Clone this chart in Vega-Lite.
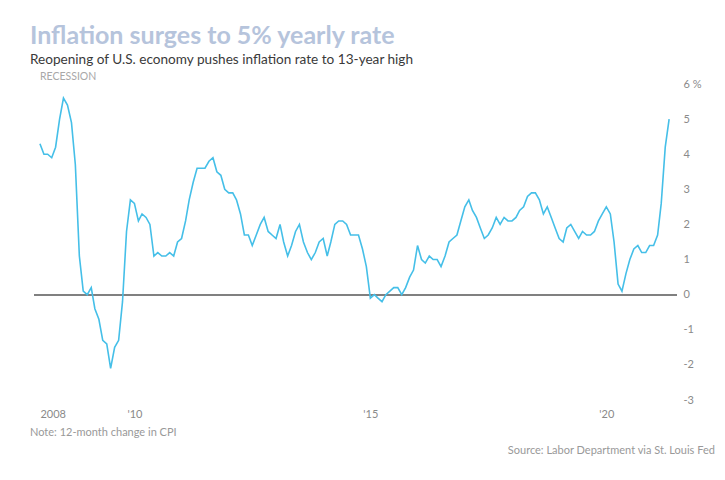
{
  "$schema": "https://vega.github.io/schema/vega-lite/v6.json",
  "width": 643,
  "height": 316,
  "autosize": {"type": "none"},
  "padding": {"left": 34, "top": 84, "right": 48, "bottom": 80},
  "background": "white",
  "config": {
    "view": {"stroke": null},
    "font": "Lato",
    "axis": {"labelOverlap": false, "labelBound": false, "labelFlush": false, "domain": false, "ticks": false, "grid": false, "title": null, "labelFont": "Lato", "labelFontSize": 11, "labelColor": "#8a8a8a"},
    "axisX": {"labelPadding": 8},
    "axisY": {"labelPadding": 6}
  },
  "title": {
    "text": "Inflation surges to 5% yearly rate",
    "subtitle": "Reopening of U.S. economy pushes inflation rate to 13-year high",
    "anchor": "start",
    "frame": "group",
    "dx": -4,
    "offset": 5,
    "font": "Lato",
    "fontSize": 25,
    "fontWeight": "bold",
    "color": "#b6c4dc",
    "subtitleFont": "Lato",
    "subtitleFontSize": 13.6,
    "subtitleColor": "#3a3a3a",
    "subtitlePadding": 4
  },
  "resolve": {"scale": {"y": "independent"}, "axis": {"y": "independent"}},
  "data": {"values": [
    {"date":"2008-01-01","cpi":4.3},{"date":"2008-02-01","cpi":4.0},{"date":"2008-03-01","cpi":4.0},{"date":"2008-04-01","cpi":3.9},{"date":"2008-05-01","cpi":4.2},{"date":"2008-06-01","cpi":5.0},{"date":"2008-07-01","cpi":5.6},{"date":"2008-08-01","cpi":5.4},{"date":"2008-09-01","cpi":4.9},{"date":"2008-10-01","cpi":3.7},{"date":"2008-11-01","cpi":1.1},{"date":"2008-12-01","cpi":0.1},
    {"date":"2009-01-01","cpi":0.0},{"date":"2009-02-01","cpi":0.2},{"date":"2009-03-01","cpi":-0.4},{"date":"2009-04-01","cpi":-0.7},{"date":"2009-05-01","cpi":-1.3},{"date":"2009-06-01","cpi":-1.4},{"date":"2009-07-01","cpi":-2.1},{"date":"2009-08-01","cpi":-1.5},{"date":"2009-09-01","cpi":-1.3},{"date":"2009-10-01","cpi":-0.2},{"date":"2009-11-01","cpi":1.8},{"date":"2009-12-01","cpi":2.7},
    {"date":"2010-01-01","cpi":2.6},{"date":"2010-02-01","cpi":2.1},{"date":"2010-03-01","cpi":2.3},{"date":"2010-04-01","cpi":2.2},{"date":"2010-05-01","cpi":2.0},{"date":"2010-06-01","cpi":1.1},{"date":"2010-07-01","cpi":1.2},{"date":"2010-08-01","cpi":1.1},{"date":"2010-09-01","cpi":1.1},{"date":"2010-10-01","cpi":1.2},{"date":"2010-11-01","cpi":1.1},{"date":"2010-12-01","cpi":1.5},
    {"date":"2011-01-01","cpi":1.6},{"date":"2011-02-01","cpi":2.1},{"date":"2011-03-01","cpi":2.7},{"date":"2011-04-01","cpi":3.2},{"date":"2011-05-01","cpi":3.6},{"date":"2011-06-01","cpi":3.6},{"date":"2011-07-01","cpi":3.6},{"date":"2011-08-01","cpi":3.8},{"date":"2011-09-01","cpi":3.9},{"date":"2011-10-01","cpi":3.5},{"date":"2011-11-01","cpi":3.4},{"date":"2011-12-01","cpi":3.0},
    {"date":"2012-01-01","cpi":2.9},{"date":"2012-02-01","cpi":2.9},{"date":"2012-03-01","cpi":2.7},{"date":"2012-04-01","cpi":2.3},{"date":"2012-05-01","cpi":1.7},{"date":"2012-06-01","cpi":1.7},{"date":"2012-07-01","cpi":1.4},{"date":"2012-08-01","cpi":1.7},{"date":"2012-09-01","cpi":2.0},{"date":"2012-10-01","cpi":2.2},{"date":"2012-11-01","cpi":1.8},{"date":"2012-12-01","cpi":1.7},
    {"date":"2013-01-01","cpi":1.6},{"date":"2013-02-01","cpi":2.0},{"date":"2013-03-01","cpi":1.5},{"date":"2013-04-01","cpi":1.1},{"date":"2013-05-01","cpi":1.4},{"date":"2013-06-01","cpi":1.8},{"date":"2013-07-01","cpi":2.0},{"date":"2013-08-01","cpi":1.5},{"date":"2013-09-01","cpi":1.2},{"date":"2013-10-01","cpi":1.0},{"date":"2013-11-01","cpi":1.2},{"date":"2013-12-01","cpi":1.5},
    {"date":"2014-01-01","cpi":1.6},{"date":"2014-02-01","cpi":1.1},{"date":"2014-03-01","cpi":1.5},{"date":"2014-04-01","cpi":2.0},{"date":"2014-05-01","cpi":2.1},{"date":"2014-06-01","cpi":2.1},{"date":"2014-07-01","cpi":2.0},{"date":"2014-08-01","cpi":1.7},{"date":"2014-09-01","cpi":1.7},{"date":"2014-10-01","cpi":1.7},{"date":"2014-11-01","cpi":1.3},{"date":"2014-12-01","cpi":0.8},
    {"date":"2015-01-01","cpi":-0.1},{"date":"2015-02-01","cpi":0.0},{"date":"2015-03-01","cpi":-0.1},{"date":"2015-04-01","cpi":-0.2},{"date":"2015-05-01","cpi":0.0},{"date":"2015-06-01","cpi":0.1},{"date":"2015-07-01","cpi":0.2},{"date":"2015-08-01","cpi":0.2},{"date":"2015-09-01","cpi":0.0},{"date":"2015-10-01","cpi":0.2},{"date":"2015-11-01","cpi":0.5},{"date":"2015-12-01","cpi":0.7},
    {"date":"2016-01-01","cpi":1.4},{"date":"2016-02-01","cpi":1.0},{"date":"2016-03-01","cpi":0.9},{"date":"2016-04-01","cpi":1.1},{"date":"2016-05-01","cpi":1.0},{"date":"2016-06-01","cpi":1.0},{"date":"2016-07-01","cpi":0.8},{"date":"2016-08-01","cpi":1.1},{"date":"2016-09-01","cpi":1.5},{"date":"2016-10-01","cpi":1.6},{"date":"2016-11-01","cpi":1.7},{"date":"2016-12-01","cpi":2.1},
    {"date":"2017-01-01","cpi":2.5},{"date":"2017-02-01","cpi":2.7},{"date":"2017-03-01","cpi":2.4},{"date":"2017-04-01","cpi":2.2},{"date":"2017-05-01","cpi":1.9},{"date":"2017-06-01","cpi":1.6},{"date":"2017-07-01","cpi":1.7},{"date":"2017-08-01","cpi":1.9},{"date":"2017-09-01","cpi":2.2},{"date":"2017-10-01","cpi":2.0},{"date":"2017-11-01","cpi":2.2},{"date":"2017-12-01","cpi":2.1},
    {"date":"2018-01-01","cpi":2.1},{"date":"2018-02-01","cpi":2.2},{"date":"2018-03-01","cpi":2.4},{"date":"2018-04-01","cpi":2.5},{"date":"2018-05-01","cpi":2.8},{"date":"2018-06-01","cpi":2.9},{"date":"2018-07-01","cpi":2.9},{"date":"2018-08-01","cpi":2.7},{"date":"2018-09-01","cpi":2.3},{"date":"2018-10-01","cpi":2.5},{"date":"2018-11-01","cpi":2.2},{"date":"2018-12-01","cpi":1.9},
    {"date":"2019-01-01","cpi":1.6},{"date":"2019-02-01","cpi":1.5},{"date":"2019-03-01","cpi":1.9},{"date":"2019-04-01","cpi":2.0},{"date":"2019-05-01","cpi":1.8},{"date":"2019-06-01","cpi":1.6},{"date":"2019-07-01","cpi":1.8},{"date":"2019-08-01","cpi":1.7},{"date":"2019-09-01","cpi":1.7},{"date":"2019-10-01","cpi":1.8},{"date":"2019-11-01","cpi":2.1},{"date":"2019-12-01","cpi":2.3},
    {"date":"2020-01-01","cpi":2.5},{"date":"2020-02-01","cpi":2.3},{"date":"2020-03-01","cpi":1.5},{"date":"2020-04-01","cpi":0.3},{"date":"2020-05-01","cpi":0.1},{"date":"2020-06-01","cpi":0.6},{"date":"2020-07-01","cpi":1.0},{"date":"2020-08-01","cpi":1.3},{"date":"2020-09-01","cpi":1.4},{"date":"2020-10-01","cpi":1.2},{"date":"2020-11-01","cpi":1.2},{"date":"2020-12-01","cpi":1.4},
    {"date":"2021-01-01","cpi":1.4},{"date":"2021-02-01","cpi":1.7},{"date":"2021-03-01","cpi":2.6},{"date":"2021-04-01","cpi":4.2},{"date":"2021-05-01","cpi":5.0}
  ]},
  "layer": [
    {
      "mark": {"type": "rule", "color": "#808080", "strokeWidth": 1.5},
      "encoding": {
        "y": {"datum": 0, "type": "quantitative", "scale": {"domain": [-3, 6], "nice": false}, "axis": null}
      }
    },
    {
      "mark": {"type": "line", "color": "#45bfe8", "strokeWidth": 1.6},
      "encoding": {
        "x": {
          "field": "date", "type": "temporal",
          "scale": {"domain": [{"year": 2007, "month": 11, "date": 16}, {"year": 2021, "month": 7, "date": 1}]},
          "axis": {
            "values": [{"year": 2008, "month": 1, "date": 1}, {"year": 2010, "month": 1, "date": 1}, {"year": 2015, "month": 1, "date": 1}, {"year": 2020, "month": 1, "date": 1}],
            "labelExpr": "year(datum.value) == 2008 ? '2008' : \"'\" + timeFormat(datum.value, '%y')",
            "labelAlign": {"condition": {"test": "year(datum.value) == 2008", "value": "left"}, "value": "center"}
          }
        },
        "y": {
          "field": "cpi", "type": "quantitative",
          "scale": {"domain": [-3, 6], "nice": false},
          "axis": {"orient": "right", "values": [-3, -2, -1, 0, 1, 2, 3, 4, 5, 6], "labelExpr": "datum.value == 6 ? '6 %' : '' + datum.value"}
        }
      }
    },
    {
      "data": {"values": [{}]},
      "mark": {"type": "text", "text": "RECESSION", "align": "left", "baseline": "alphabetic", "font": "Lato", "fontSize": 10.5, "color": "#a8a8a8"},
      "encoding": {
        "x": {"datum": {"year": 2008, "month": 1, "date": 1}, "type": "temporal"},
        "y": {"datum": 6.12, "type": "quantitative", "scale": {"domain": [-3, 6], "nice": false}, "axis": null}
      }
    },
    {
      "data": {"values": [{}]},
      "mark": {"type": "text", "text": "Note: 12-month change in CPI", "align": "left", "baseline": "alphabetic", "font": "Lato", "fontSize": 11, "color": "#999999"},
      "encoding": {
        "x": {"datum": {"year": 2007, "month": 10, "date": 16}, "type": "temporal"},
        "y": {"datum": -4.03, "type": "quantitative", "scale": {"domain": [-3, 6], "nice": false}, "axis": null}
      }
    },
    {
      "data": {"values": [{}]},
      "mark": {"type": "text", "text": "Source: Labor Department via St. Louis Fed", "align": "right", "baseline": "alphabetic", "font": "Lato", "fontSize": 11, "color": "#999999"},
      "encoding": {
        "x": {"datum": {"year": 2022, "month": 4, "date": 20}, "type": "temporal"},
        "y": {"datum": -4.55, "type": "quantitative", "scale": {"domain": [-3, 6], "nice": false}, "axis": null}
      }
    }
  ]
}
